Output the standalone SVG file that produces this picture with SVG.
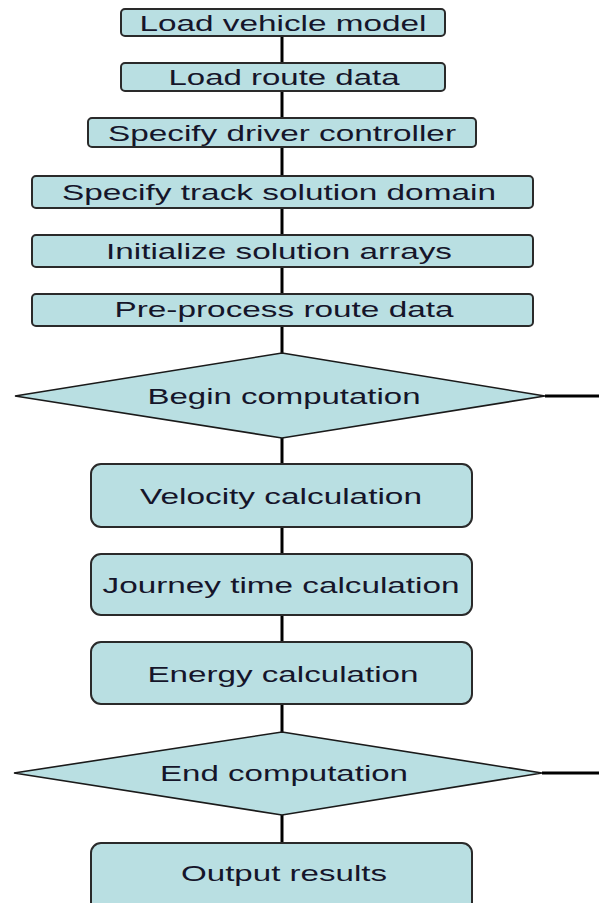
<svg xmlns="http://www.w3.org/2000/svg" width="599" height="903" viewBox="0 0 599 903">
<style>
.bx{fill:#b9dfe2;stroke:#2a2a2a;stroke-width:2}
.dm{fill:#b9dfe2;stroke:#1a1a1a;stroke-width:1.6}
.t{font-family:"Liberation Sans",Arial,sans-serif;font-size:22px;fill:#15152a;text-anchor:middle}
.c{stroke:#000;stroke-width:3;fill:none}
</style>
<rect width="599" height="903" fill="#fff"/>
<g id="connectors">
<line class="c" x1="282" y1="36" x2="282" y2="63"/>
<line class="c" x1="282" y1="91" x2="282" y2="118"/>
<line class="c" x1="282" y1="147" x2="282" y2="176"/>
<line class="c" x1="282" y1="208" x2="282" y2="235"/>
<line class="c" x1="282" y1="267" x2="282" y2="294"/>
<line class="c" x1="282" y1="326" x2="282" y2="353"/>
<line class="c" x1="282" y1="438" x2="282" y2="464"/>
<line class="c" x1="282" y1="527" x2="282" y2="554"/>
<line class="c" x1="282" y1="615" x2="282" y2="642"/>
<line class="c" x1="282" y1="704" x2="282" y2="732"/>
<line class="c" x1="282" y1="815" x2="282" y2="843"/>
<line class="c" x1="545" y1="396" x2="599" y2="396"/>
<line class="c" x1="542" y1="773" x2="599" y2="773"/>
</g>
<g id="n1"><rect class="bx" x="121" y="9" width="324" height="27" rx="4"/><text class="t" x="283" y="31" textLength="287" lengthAdjust="spacingAndGlyphs">Load vehicle model</text></g>
<g id="n2"><rect class="bx" x="121" y="63" width="324" height="28" rx="4"/><text class="t" x="284" y="85" textLength="231" lengthAdjust="spacingAndGlyphs">Load route data</text></g>
<g id="n3"><rect class="bx" x="88" y="118" width="388" height="29" rx="4"/><text class="t" x="282" y="141" textLength="348" lengthAdjust="spacingAndGlyphs">Specify driver controller</text></g>
<g id="n4"><rect class="bx" x="32" y="176" width="501" height="32" rx="4"/><text class="t" x="279" y="200" textLength="434" lengthAdjust="spacingAndGlyphs">Specify track solution domain</text></g>
<g id="n5"><rect class="bx" x="32" y="235" width="501" height="32" rx="4"/><text class="t" x="279" y="259" textLength="346" lengthAdjust="spacingAndGlyphs">Initialize solution arrays</text></g>
<g id="n6"><rect class="bx" x="32" y="294" width="501" height="32" rx="4"/><text class="t" x="284" y="317" textLength="339" lengthAdjust="spacingAndGlyphs">Pre-process route data</text></g>
<g id="d1"><polygon class="dm" points="282,353 545,396 282,438 15,396"/><text class="t" x="284" y="404" textLength="273" lengthAdjust="spacingAndGlyphs">Begin computation</text></g>
<g id="n7"><rect class="bx" x="91" y="464" width="381" height="63" rx="10"/><text class="t" x="281" y="504" textLength="282" lengthAdjust="spacingAndGlyphs">Velocity calculation</text></g>
<g id="n8"><rect class="bx" x="91" y="554" width="381" height="61" rx="10"/><text class="t" x="281" y="593" textLength="357" lengthAdjust="spacingAndGlyphs">Journey time calculation</text></g>
<g id="n9"><rect class="bx" x="91" y="642" width="381" height="62" rx="10"/><text class="t" x="283" y="682" textLength="271" lengthAdjust="spacingAndGlyphs">Energy calculation</text></g>
<g id="d2"><polygon class="dm" points="282,732 542,773 282,815 14,773"/><text class="t" x="284" y="781" textLength="248" lengthAdjust="spacingAndGlyphs">End computation</text></g>
<g id="n10"><rect class="bx" x="91" y="843" width="381" height="70" rx="10"/><text class="t" x="284" y="881" textLength="206" lengthAdjust="spacingAndGlyphs">Output results</text></g>
</svg>
